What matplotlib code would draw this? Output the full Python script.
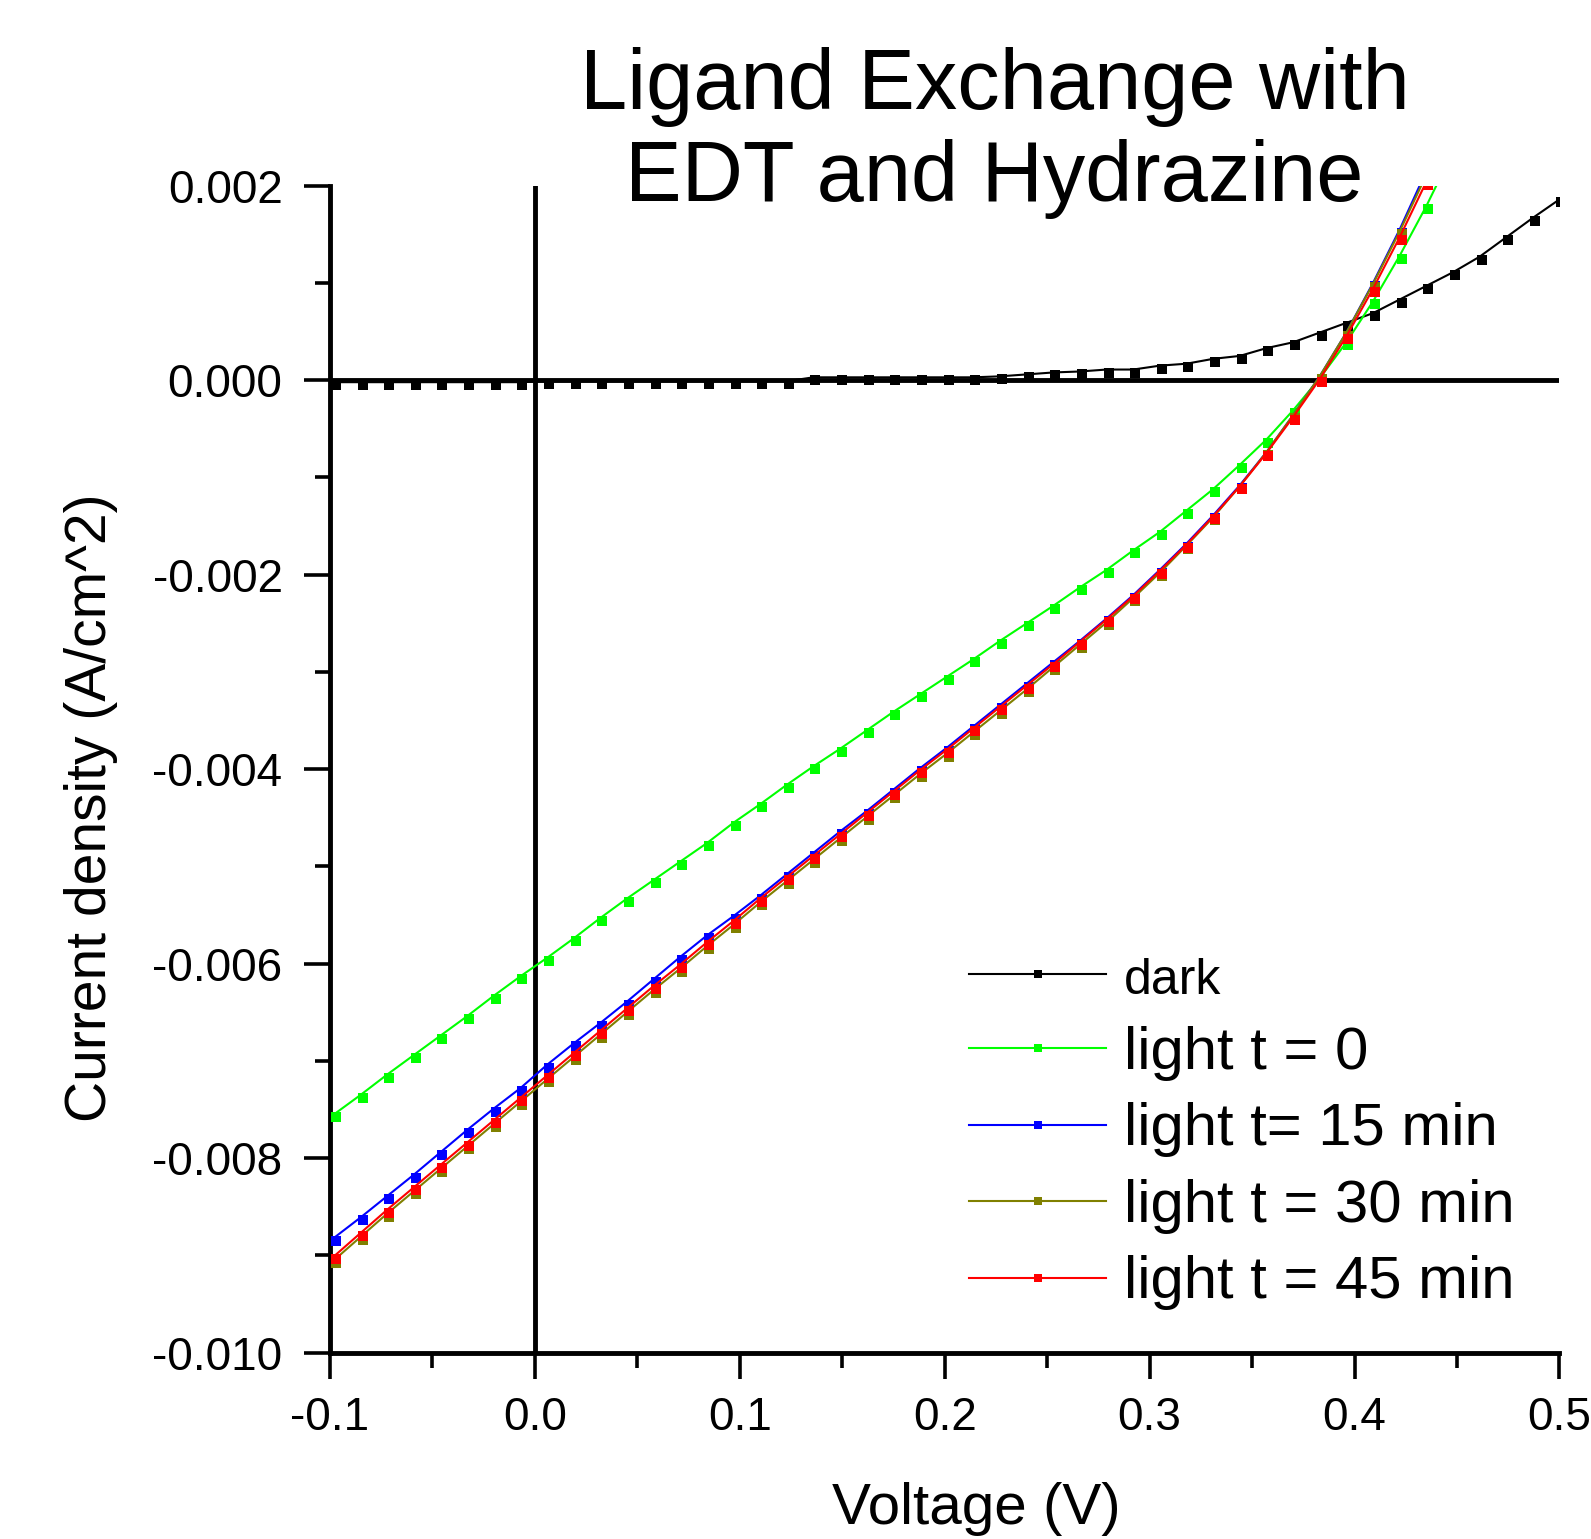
import matplotlib
matplotlib.use('Agg')
import matplotlib.pyplot as plt
import matplotlib.transforms as mtransforms
from matplotlib.lines import Line2D
from matplotlib.ticker import MultipleLocator, FuncFormatter

plt.rcParams['font.family'] = ['Liberation Sans', 'DejaVu Sans']
plt.rcParams['axes.unicode_minus'] = False

# --- data ------------------------------------------------------------------
voltage = [-0.098, -0.085, -0.072, -0.059, -0.046, -0.033, -0.020, -0.007,
           0.006, 0.019, 0.032, 0.045, 0.058, 0.071, 0.084, 0.097,
           0.110, 0.123, 0.136, 0.149, 0.162, 0.175, 0.188, 0.201,
           0.214, 0.227, 0.240, 0.253, 0.266, 0.279, 0.292, 0.305,
           0.318, 0.331, 0.344, 0.357, 0.370, 0.383, 0.396, 0.409,
           0.422, 0.435, 0.448, 0.461, 0.474, 0.487, 0.500]

dark = [-0.00002, -0.00002, -0.00002, -0.00002, -0.00002, -0.00002, -0.00002, -0.00002,
        -0.00001, -0.00001, -0.00001, -0.00001, -0.00001, -0.00001, -0.00001, -0.00001,
        -0.00001, -0.00001, 0.00003, 0.00003, 0.00003, 0.00003, 0.00003, 0.00003,
        0.00003, 0.00004, 0.00006, 0.00008, 0.00009, 0.00011, 0.00011, 0.00015,
        0.00017, 0.00022, 0.00025, 0.00033, 0.00039, 0.00049, 0.00059, 0.00069,
        0.00083, 0.00097, 0.00111, 0.00127, 0.00147, 0.00167, 0.00186]

light_0 = [-0.00755, -0.00735, -0.00714, -0.00694, -0.00674, -0.00654, -0.00633, -0.00613,
           -0.00594, -0.00574, -0.00553, -0.00533, -0.00514, -0.00495, -0.00476, -0.00455,
           -0.00436, -0.00416, -0.00397, -0.00379, -0.00360, -0.00341, -0.00323, -0.00305,
           -0.00287, -0.00268, -0.00250, -0.00232, -0.00213, -0.00195, -0.00175, -0.00156,
           -0.00134, -0.00112, -0.00087, -0.00061, -0.00031, 0.00002, 0.00039, 0.00081,
           0.00128, 0.00179, 0.00235]

light_15 = [-0.00882, -0.00861, -0.00839, -0.00817, -0.00794, -0.00771, -0.00749, -0.00728,
            -0.00704, -0.00682, -0.00661, -0.00639, -0.00616, -0.00593, -0.00571, -0.00551,
            -0.00530, -0.00508, -0.00486, -0.00464, -0.00443, -0.00421, -0.00399, -0.00378,
            -0.00356, -0.00334, -0.00312, -0.00290, -0.00268, -0.00245, -0.00221, -0.00195,
            -0.00168, -0.00139, -0.00108, -0.00074, -0.00036, 0.00004, 0.00049, 0.00100,
            0.00155, 0.00215, 0.00280]

light_30 = [-0.00905, -0.00881, -0.00857, -0.00834, -0.00811, -0.00788, -0.00765, -0.00742,
            -0.00719, -0.00696, -0.00673, -0.00650, -0.00627, -0.00605, -0.00582, -0.00560,
            -0.00537, -0.00515, -0.00493, -0.00471, -0.00449, -0.00427, -0.00405, -0.00384,
            -0.00362, -0.00340, -0.00318, -0.00295, -0.00272, -0.00249, -0.00224, -0.00198,
            -0.00170, -0.00141, -0.00109, -0.00074, -0.00036, 0.00004, 0.00049, 0.00099,
            0.00153, 0.00211, 0.00277]

light_45 = [-0.00901, -0.00877, -0.00853, -0.00830, -0.00807, -0.00784, -0.00761, -0.00738,
            -0.00715, -0.00692, -0.00669, -0.00646, -0.00623, -0.00601, -0.00578, -0.00556,
            -0.00533, -0.00511, -0.00489, -0.00467, -0.00445, -0.00423, -0.00401, -0.00380,
            -0.00358, -0.00336, -0.00314, -0.00292, -0.00269, -0.00246, -0.00222, -0.00196,
            -0.00169, -0.00140, -0.00109, -0.00075, -0.00038, 0.00001, 0.00045, 0.00094,
            0.00147, 0.00204, 0.00270]

labels = ['dark', 'light t = 0', 'light t= 15 min', 'light t = 30 min', 'light t = 45 min']
colors = ['#000000', '#00ff00', '#0000ff', '#808000', '#ff0000']
curves = [dark, light_0, light_15, light_30, light_45]

titre = 'Ligand Exchange with\nEDT and Hydrazine'

# --- figure ----------------------------------------------------------------
fig = plt.figure(figsize=(15.91, 15.39), dpi=100)
ax = fig.add_axes([0.2073, 0.1211, 0.7729, 0.7582])

# Origin draws the square markers a little below/right of the line
mark_tr = mtransforms.offset_copy(ax.transData, fig=fig, x=2, y=-3, units='dots')

for y, col in zip(curves, colors):
    n = len(y)
    ax.plot(voltage[:n], y, color=col, lw=1.5, zorder=3)
    ax.plot(voltage[:n], y, ls='none', marker='s', ms=7, mew=0, color=col,
            transform=mark_tr, zorder=3)

ax.axhline(0, color='k', lw=3.5, zorder=2)
ax.axvline(0, color='k', lw=3.5, zorder=2)

ax.set_xlim(-0.1, 0.5)
ax.set_ylim(-0.010, 0.002)

for s in ['top', 'right']:
    ax.spines[s].set_visible(False)
for s in ['left', 'bottom']:
    ax.spines[s].set_linewidth(3.5)

ax.xaxis.set_major_locator(MultipleLocator(0.1))
ax.xaxis.set_minor_locator(MultipleLocator(0.05))
ax.yaxis.set_major_locator(MultipleLocator(0.002))
ax.yaxis.set_minor_locator(MultipleLocator(0.001))
ax.xaxis.set_major_formatter(FuncFormatter(lambda v, p: '{:.1f}'.format(v)))
ax.yaxis.set_major_formatter(FuncFormatter(lambda v, p: '{:.3f}'.format(v)))

ax.tick_params(which='major', direction='out', length=19, width=2.6, labelsize=33)
ax.tick_params(which='minor', direction='out', length=11, width=2.6)
ax.tick_params(axis='y', which='major', pad=15)
ax.tick_params(axis='x', which='major', pad=12)

ax.set_xlabel('Voltage (V)', fontsize=42)
ax.xaxis.set_label_coords(0.5255, -0.111)
ax.set_ylabel('Current density (A/cm^2)', fontsize=41)
ax.yaxis.set_label_coords(-0.172, 0.467)

fig.text(0.625, 0.9135, titre, fontsize=61, ha='center', va='center', linespacing=1.19)

handles = [Line2D([], [], color=c, lw=1.5, marker='s', ms=6, mew=0) for c in colors]
leg = ax.legend(handles, labels, loc='upper left', bbox_to_anchor=(0.609, 0.381),
                bbox_transform=fig.transFigure, frameon=False, fontsize=43,
                handlelength=2.3, handletextpad=0.3, labelspacing=0.36,
                borderpad=0, borderaxespad=0)
leg.get_texts()[0].set_fontsize(36)

fig.savefig('out.png', dpi=100)
